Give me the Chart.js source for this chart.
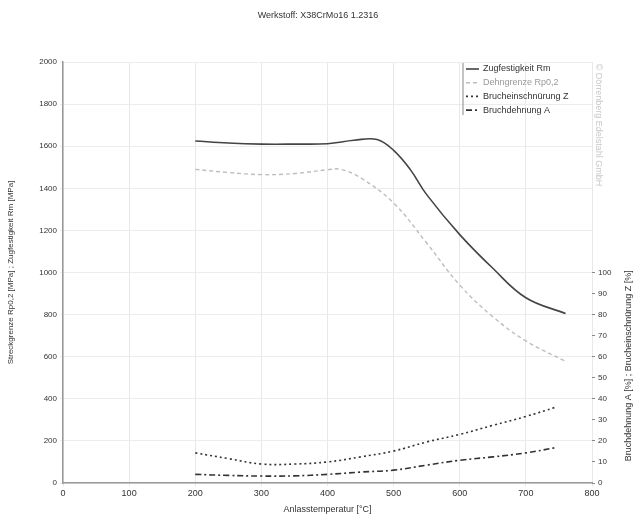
<!DOCTYPE html>
<html>
<head>
<meta charset="utf-8">
<script src="https://cdn.jsdelivr.net/npm/chart.js@4/dist/chart.umd.min.js"></script>
<style>
  html, body { margin: 0; padding: 0; background: #fff; }
  #wrap { width: 636px; height: 519px; }
</style>
</head>
<body>
<div id="wrap"><canvas id="chart"></canvas></div>
<script>
// Anlasstemperatur [°C]
var tempRm = [200, 250, 300, 350, 400, 440, 475, 500, 525, 550, 600, 650, 700, 760];
var rm     = [1625, 1615, 1610, 1610, 1612, 1628, 1632, 1580, 1490, 1370, 1180, 1020, 880, 805];

var tempRp = [200, 250, 300, 350, 400, 420, 450, 500, 550, 600, 650, 700, 760];
var rp     = [1490, 1475, 1465, 1470, 1488, 1490, 1450, 1330, 1140, 940, 790, 675, 578];

var tempZA = [200, 250, 300, 350, 400, 450, 500, 550, 600, 650, 700, 745];
var bruchZ = [14.3, 11.6, 9, 9, 10, 12.4, 15.2, 19.5, 23.1, 27.4, 31.6, 36];
var bruchA = [4.1, 3.6, 3.3, 3.4, 4.1, 5.2, 6.1, 8.5, 10.8, 12.4, 14.3, 16.8];

var labels = ["Zugfestigkeit Rm", "Dehngrenze Rp0,2", "Brucheinschnürung Z", "Bruchdehnung A"];

function pts(xs, ys) {
  var out = [];
  for (var i = 0; i < xs.length; i++) out.push({ x: xs[i], y: ys[i] });
  return out;
}

var FONT = "'Liberation Sans', Arial, sans-serif";

// Titel, Legende, rechter Achsentitel und Wasserzeichen
var extras = {
  id: "extras",
  afterDraw(chart) {
    var c = chart.ctx;
    c.save();
    c.fillStyle = "#333";
    c.font = "9px " + FONT;
    c.textAlign = "center";
    c.textBaseline = "middle";
    c.fillText("Werkstoff: X38CrMo16 1.2316", 318, 16);

    // Legende
    var lx = 463, ly = 69;
    c.strokeStyle = "#888";
    c.lineWidth = 1;
    c.beginPath(); c.moveTo(lx, 63); c.lineTo(lx, 115); c.stroke();
    c.textAlign = "left";
    chart.data.datasets.forEach(function (ds, i) {
      var y = ly + i * 13.7;
      c.strokeStyle = ds.borderColor;
      c.lineWidth = ds.borderWidth;
      c.setLineDash(ds.borderDash || []);
      c.beginPath(); c.moveTo(lx + 3, y); c.lineTo(lx + 16, y); c.stroke();
      c.setLineDash([]);
      c.fillStyle = i == 1 ? "#999" : "#333";
      c.fillText(ds.label, lx + 20, y);
    });

    // rechter Achsentitel (untere Hälfte)
    var y1 = chart.scales.y1;
    var midY = (y1.getPixelForValue(0) + y1.getPixelForValue(100)) / 2;
    c.translate(629, midY - 12);
    c.rotate(-Math.PI / 2);
    c.fillStyle = "#333";
    c.textAlign = "center";
    c.fillText("Bruchdehnung A [%] ; Brucheinschnürung Z [%]", 0, 0);
    c.restore();

    // Wasserzeichen
    c.save();
    c.translate(598, 125);
    c.rotate(Math.PI / 2);
    c.fillStyle = "#c8c8c8";
    c.font = "9px " + FONT;
    c.textAlign = "center";
    c.textBaseline = "middle";
    c.fillText("© Dörrenberg Edelstahl GmbH", 0, 0);
    c.restore();
  },
};

var ctx = document.getElementById("chart").getContext("2d");
var myChart = new Chart(ctx, {
  type: "line",
  data: {
    datasets: [
      {
        label: labels[0],
        data: pts(tempRm, rm),
        borderColor: "#444",
        borderWidth: 1.6,
        yAxisID: "y",
      },
      {
        label: labels[1],
        data: pts(tempRp, rp),
        borderColor: "#bdbdbd",
        borderWidth: 1.4,
        borderDash: [4, 3],
        yAxisID: "y",
      },
      {
        label: labels[2],
        data: pts(tempZA, bruchZ),
        borderColor: "#333",
        borderWidth: 1.6,
        borderDash: [2, 3],
        yAxisID: "y1",
      },
      {
        label: labels[3],
        data: pts(tempZA, bruchA),
        borderColor: "#333",
        borderWidth: 1.6,
        borderDash: [6, 3, 2, 3],
        yAxisID: "y1",
      },
    ],
  },
  options: {
    responsive: true,
    maintainAspectRatio: false,
    animation: false,
    elements: { point: { radius: 0 }, line: { tension: 0.4 } },
    layout: { padding: { top: 62, left: 6, right: 0, bottom: 0 } },
    plugins: {
      legend: { display: false },
      title: { display: false },
      tooltip: { enabled: false },
    },
    scales: {
      x: {
        type: "linear",
        min: 0,
        max: 800,
        ticks: {
          stepSize: 100,
          color: "#333",
          font: { size: 9, family: FONT },
          padding: 2,
          callback: function (v) { return String(v); },
        },
        grid: { color: "#e8e8e8", tickLength: 3 },
        border: { color: "#999", width: 1.5 },
        title: { display: true, text: "Anlasstemperatur [°C]", color: "#333", font: { size: 9, family: FONT }, padding: { top: 0 } },
        afterFit(scale) { scale.height = 36; },
      },
      y: {
        position: "left",
        min: 0,
        max: 2000,
        ticks: {
          stepSize: 200,
          color: "#333",
          font: { size: 8, family: FONT },
          padding: 3,
          callback: function (v) { return String(v); },
        },
        grid: { color: "#ececec", tickLength: 3 },
        border: { color: "#999", width: 1.5 },
        title: { display: true, text: "Streckgrenze Rp0,2 [MPa] ; Zugfestigkeit Rm [MPa]", color: "#333", font: { size: 8, family: FONT }, padding: 0 },
        afterFit(scale) { scale.width = 57; },
      },
      y1: {
        position: "right",
        min: 0,
        max: 200,
        ticks: {
          stepSize: 10,
          color: "#333",
          font: { size: 8, family: FONT },
          padding: 3,
          callback: function (v) { return v <= 100 ? String(v) : ""; },
        },
        grid: {
          drawOnChartArea: false,
          tickLength: 3,
          color: function (c) { return c.tick && c.tick.value <= 100 ? "#888" : "rgba(0,0,0,0)"; },
        },
        border: { display: false },
        afterFit(scale) { scale.width = 44; },
      },
    },
  },
  plugins: [extras],
});
</script>
</body>
</html>
